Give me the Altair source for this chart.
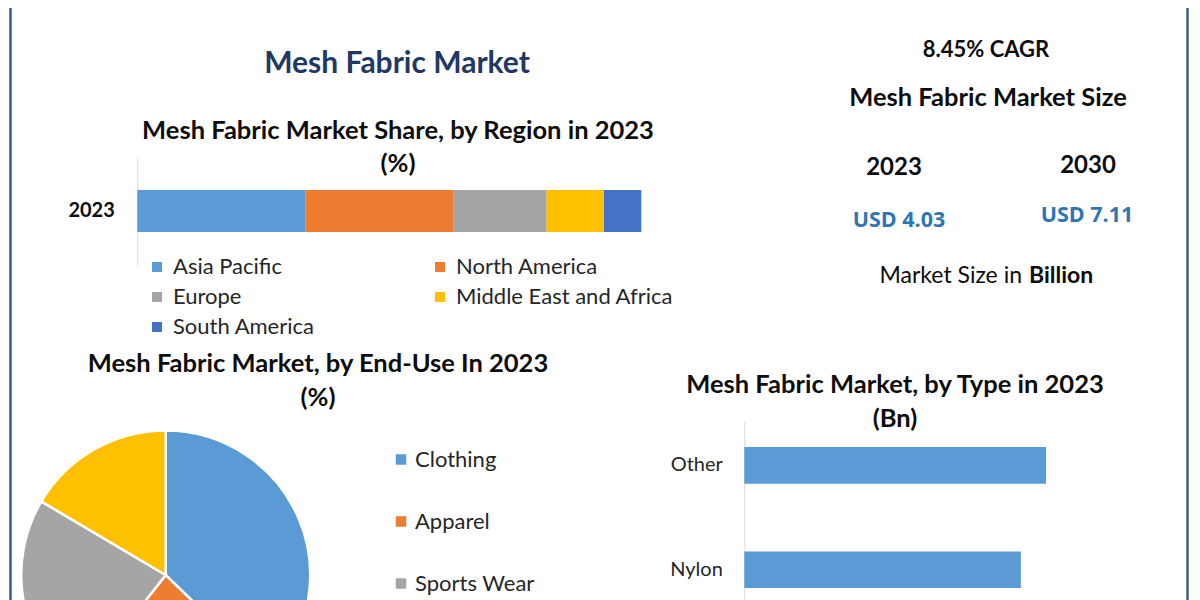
import altair as alt
import pandas as pd

# ---------------- data ----------------
regions = ["Asia Pacific", "North America", "Europe", "Middle East and Africa", "South America"]
region_share = [33.4, 29.4, 18.4, 11.4, 7.4]
region_colors = ["#5B9BD5", "#ED7D31", "#A5A5A5", "#FFC000", "#4472C4"]
region_year = "2023"
# legend reading order (column-major fill of a 2-column legend -> rows read AP|NA, EU|MEA, SA)
legend_order = ["Asia Pacific", "Europe", "South America", "North America", "Middle East and Africa"]

end_uses = ["Clothing", "Apparel", "Sports Wear", "Others"]
end_use_share = [37.3, 23.3, 22.9, 16.5]
end_use_colors = ["#5B9BD5", "#ED7D31", "#A5A5A5", "#FFC000"]
end_use_legend = ["Clothing", "Apparel", "Sports Wear"]  # entries visible in the reference

types = ["Other", "Nylon"]
type_value = [1.20, 1.10]

cagr_text = "8.45% CAGR"
size_title = "Mesh Fabric Market Size"
years = ["2023", "2030"]
market_size = ["USD 4.03", "USD 7.11"]

main_title = "Mesh Fabric Market"
region_title = ["Mesh Fabric Market Share, by Region in 2023", "(%)"]
enduse_title = ["Mesh Fabric Market, by End-Use In 2023", "(%)"]
type_title = ["Mesh Fabric Market, by Type in 2023", "(Bn)"]

FONT = "Lato"
OFF = 8  # page margin -> plot coordinates

color_map = dict(zip(regions, region_colors))

region_df = pd.DataFrame({
    "year": [region_year] * len(regions),
    "region": regions,
    "share": region_share,
    "order": list(range(len(regions))),
})
enduse_df = pd.DataFrame({
    "use": end_uses,
    "share": end_use_share,
    "order": list(range(len(end_uses))),
})
type_df = pd.DataFrame({"type": types, "value": type_value})


def txt(s, px, py, size, weight="bold", color="#0D0D0D", align="center", font=FONT):
    return alt.Chart(pd.DataFrame({"t": [s]})).mark_text(
        font=font, fontSize=size, fontWeight=weight, color=color,
        align=align, baseline="middle"
    ).encode(x=alt.value(px - OFF), y=alt.value(py - OFF), text="t:N")


# stacked region bar
region_bar = alt.Chart(region_df).mark_bar().encode(
    x=alt.X("share:Q", stack="zero",
            scale=alt.Scale(domain=[0, 100], range=[137.3 - OFF, 641.3 - OFF], nice=False),
            axis=None),
    y=alt.Y("year:N",
            scale=alt.Scale(range=[157 - OFF, 265 - OFF], paddingInner=0, paddingOuter=0.786),
            axis=alt.Axis(orient="left", offset=-(137.3 - OFF), title=None, ticks=False,
                          tickSize=0, labelPadding=23, labelFont=FONT, labelFontSize=20,
                          labelFontWeight="bold", labelColor="#0D0D0D",
                          domainColor="#D9D9D9", domainWidth=1, grid=False)),
    color=alt.Color("region:N",
                    scale=alt.Scale(domain=legend_order,
                                    range=[color_map[r] for r in legend_order]),
                    legend=alt.Legend(orient="none", legendX=146 - OFF, legendY=256 - OFF,
                                      columns=2, title=None, symbolType="square",
                                      symbolSize=100, symbolStrokeWidth=0,
                                      labelFont=FONT, labelFontSize=22, labelColor="#262626",
                                      labelOffset=5, columnPadding=114, rowPadding=8,
                                      labelLimit=400)),
    order=alt.Order("order:Q"),
)

# pie
pie = alt.Chart(enduse_df).mark_arc(outerRadius=144.5, stroke="white", strokeWidth=2.5).encode(
    theta=alt.Theta("share:Q", stack=True),
    color=alt.Color("use:N",
                    scale=alt.Scale(domain=end_uses, range=end_use_colors),
                    legend=alt.Legend(orient="none", legendX=390 - OFF, legendY=448.5 - OFF,
                                      values=end_use_legend,
                                      title=None, symbolType="square", symbolSize=110,
                                      symbolStrokeWidth=0, labelFont=FONT, labelFontSize=22,
                                      labelColor="#262626", labelOffset=3, rowPadding=40,
                                      labelLimit=400)),
    order=alt.Order("order:Q"),
    x=alt.value(165.7 - OFF),
    y=alt.value(575 - OFF),
)

# type bars
type_bar = alt.Chart(type_df).mark_bar(color="#5B9BD5").encode(
    x=alt.X("value:Q",
            scale=alt.Scale(domain=[0, 1.2], range=[744.3 - OFF, 1046 - OFF], nice=False),
            axis=None),
    y=alt.Y("type:N", sort=types,
            scale=alt.Scale(range=[421 - OFF, 614.1 - OFF], paddingInner=0.65, paddingOuter=0.25),
            axis=alt.Axis(orient="left", offset=-(744.3 - OFF), title=None, ticks=False,
                          tickSize=0, labelPadding=22, labelFont=FONT, labelFontSize=20,
                          labelColor="#262626", domainColor="#D9D9D9", domainWidth=1,
                          grid=False)),
)

# borders
border_l = alt.Chart(pd.DataFrame({"a": [0]})).mark_rule(color="#3B5A82", strokeWidth=2.5).encode(
    x=alt.value(10.5 - OFF), y=alt.value(0), y2=alt.value(610))
border_r = alt.Chart(pd.DataFrame({"a": [0]})).mark_rule(color="#3E6078", strokeWidth=2.5).encode(
    x=alt.value(1187.5 - OFF), y=alt.value(0), y2=alt.value(610))

texts = [
    txt(main_title, 397, 64, 30, color="#1F3864"),
    txt(region_title[0], 398, 131, 25.5),
    txt(region_title[1], 398, 164, 25.5),
    txt(cagr_text, 986, 50, 22),
    txt(size_title, 988, 98, 25.5),
    txt(years[0], 894, 168, 24),
    txt(years[1], 1088, 166, 24),
    txt(market_size[0], 899, 221, 21.5, color="#2E75B6", font="Open Sans"),
    txt(market_size[1], 1087, 216, 21.5, color="#2E75B6", font="Open Sans"),
    txt("Market Size in", 1022, 276, 23, weight="normal", align="right"),
    txt("Billion", 1029, 276, 23, align="left"),
    txt(enduse_title[0], 318, 364, 25.5),
    txt(enduse_title[1], 318, 398, 25.5),
    txt(type_title[0], 895, 385, 25.5),
    txt(type_title[1], 895, 419, 25.5),
]

chart = alt.layer(region_bar, pie, type_bar, border_l, border_r, *texts).resolve_scale(
    x="independent", y="independent", color="independent", theta="independent"
).resolve_axis(x="independent", y="independent").resolve_legend(color="independent").properties(
    width=1184, height=592, padding=0,
    autosize=alt.AutoSizeParams(type="none"),
    background="white",
).configure_view(stroke=None)

chart.save("out.html", embed_options={"renderer": "svg", "actions": False})
